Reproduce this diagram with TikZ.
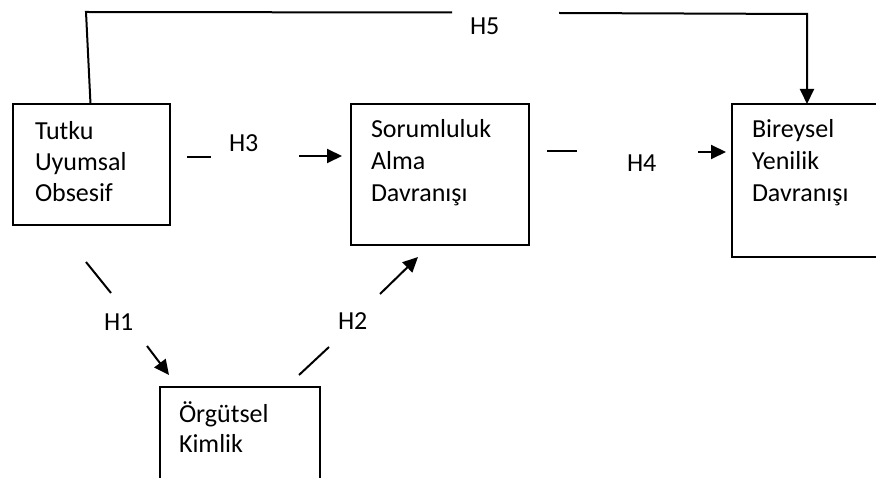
\documentclass[tikz,border=0pt]{standalone}
\usepackage{fontspec}
\setmainfont{Carlito}
\usetikzlibrary{arrows.meta,calc}
\begin{document}
\begin{tikzpicture}[x=1pt,y=-1pt,
  every node/.style={inner sep=0pt, outer sep=0pt},
  box/.style={draw, line width=2pt, anchor=north west},
  lbl/.style={anchor=base west, font=\fontsize{26}{31}\selectfont},
  link/.style={line width=2pt},
  arr/.style={link, -{Triangle[length=15pt,width=14pt]}}]
\useasboundingbox (0,0) rectangle (876,478);
\clip (0,0) rectangle (876,478);

% boxes
\node[box, minimum width=157pt, minimum height=121pt] (tutku) at (13,104) {};
\node[box, minimum width=178pt, minimum height=141pt] (sorum) at (351,104) {};
\node[box, minimum width=170pt, minimum height=153pt] (birey) at (732,104) {};
\node[box, minimum width=160pt, minimum height=130pt] (orgut) at (160,387) {};

% box texts
\node[lbl] (t1) at (35,140) {Tutku};
\node[lbl] (t2) at (35,171) {Uyumsal};
\node[lbl] (t3) at (35,202) {Obsesif};
\node[lbl] (s1) at (371,138) {Sorumluluk};
\node[lbl] (s2) at (371,170) {Alma};
\node[lbl] (s3) at (371,202) {Davranışı};
\node[lbl] (b1) at (752,138) {Bireysel};
\node[lbl] (b2) at (752,170) {Yenilik};
\node[lbl] (b3) at (752,202) {Davranışı};
\node[lbl] (o1) at (179,422) {Örgütsel};
\node[lbl] (o2) at (179,452) {Kimlik};

% hypothesis labels
\node[lbl] (h5) at (470,35) {H5};
\node[lbl] (h3) at (229,152) {H3};
\node[lbl] (h4) at (627,172) {H4};
\node[lbl] (h1) at (104,331) {H1};
\node[lbl] (h2) at (338,330) {H2};

% free ends of the broken connectors
\coordinate (h5a) at (86,12);
\coordinate (h5b) at (452,12.5);
\coordinate (h5c) at (559,13);
\coordinate (h5d) at (807,14);
\coordinate (h3a) at (187,157);
\coordinate (h3b) at (211,157);
\coordinate (h3c) at (299,156);
\coordinate (h3d) at (342,156);
\coordinate (h4a) at (547,151);
\coordinate (h4b) at (577,151);
\coordinate (h4c) at (698,152);
\coordinate (h4d) at (726,152);
\coordinate (h1a) at (86,262);
\coordinate (h1b) at (111,293);
\coordinate (h1c) at (147,346);
\coordinate (h1d) at (169,375);
\coordinate (h2a) at (299,375);
\coordinate (h2b) at (329,347);
\coordinate (h2c) at (380,294);
\coordinate (h2d) at (418,257);

% H5
\draw[link] ($(tutku.north west)+(77.5,0)$) -- (h5a) -- (h5b);
\draw[arr] (h5c) -- (h5d) -- ($(birey.north west)+(75,0)$);
% H3
\draw[link] (h3a) -- (h3b);
\draw[arr] (h3c) -- (h3d);
% H4
\draw[link] (h4a) -- (h4b);
\draw[arr] (h4c) -- (h4d);
% H1
\draw[link] (h1a) -- (h1b);
\draw[arr] (h1c) -- (h1d);
% H2
\draw[link] (h2a) -- (h2b);
\draw[arr] (h2c) -- (h2d);
\end{tikzpicture}
\end{document}
